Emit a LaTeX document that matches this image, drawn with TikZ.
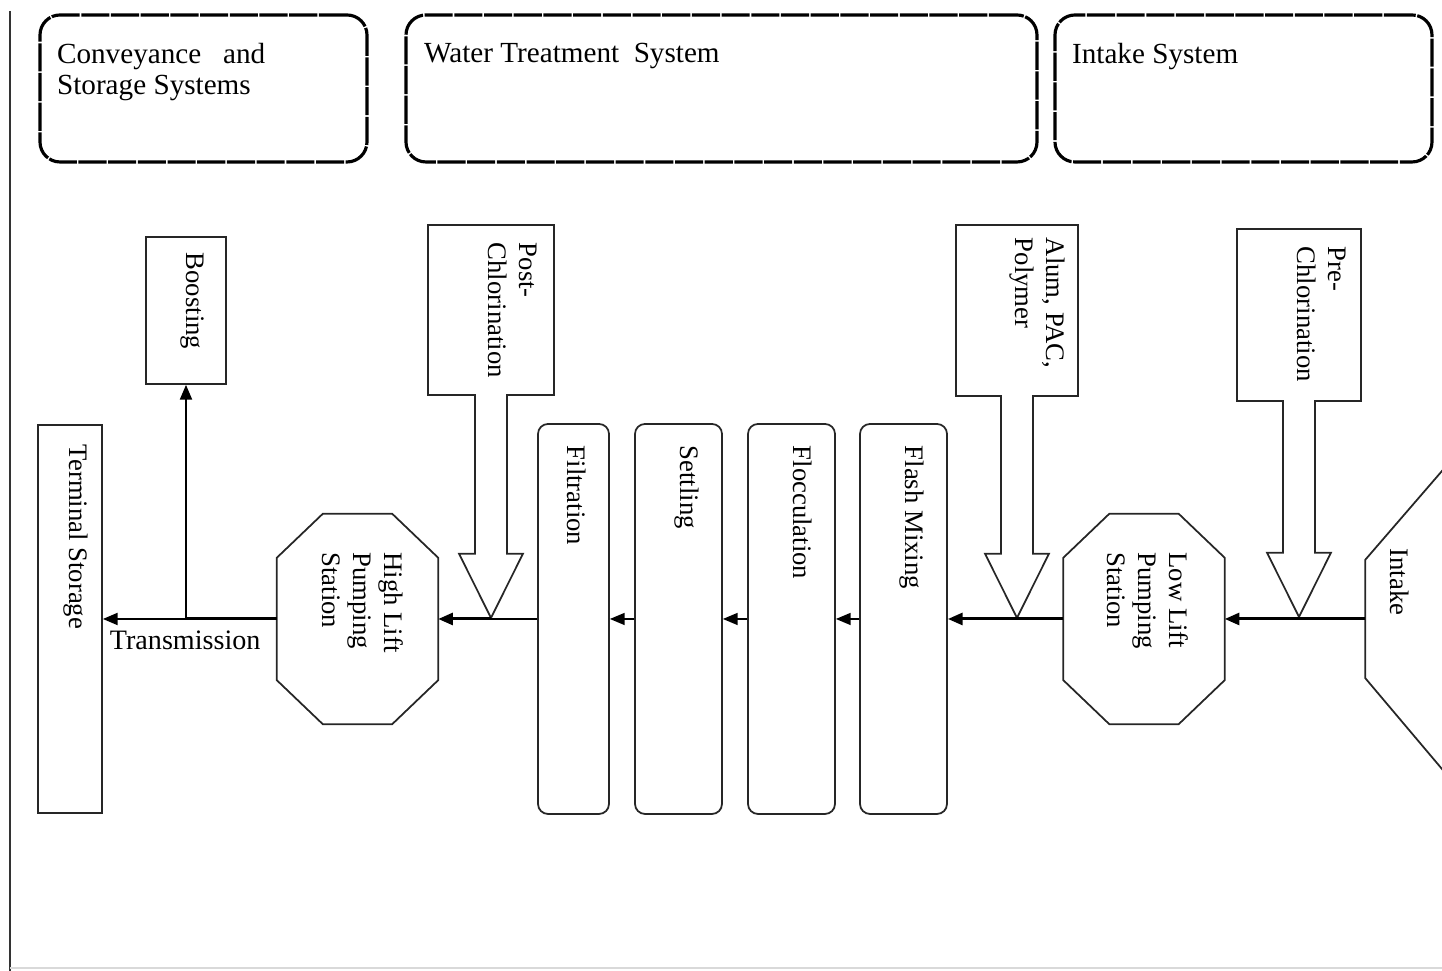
\documentclass[tikz,border=0pt]{standalone}
\usepackage{fontspec}
\setmainfont{Liberation Serif}
\usetikzlibrary{arrows.meta,shapes.arrows}

\begin{document}
\begin{tikzpicture}[
    >={Triangle[length=4.2pt,width=3.4pt]},
    sysbox/.style={
        rectangle, rounded corners=0.2cm, draw=black, line width=0.9pt,
        dash pattern=on 8pt off 0.45pt, minimum height=1.47cm
    },
    systext/.style={
        anchor=north west, align=left, inner sep=0pt,
        font=\fontsize{8.3}{8.8}\selectfont
    },
    tank/.style={
        rectangle, draw=black!85, line width=0.5pt, inner sep=0pt,
        minimum width=0.87cm, minimum height=3.90cm
    },
    stage/.style={tank, rounded corners=0.1cm},
    pump/.style={
        rectangle, inner sep=0pt, minimum width=1.60cm, minimum height=2.09cm
    },
    dose/.style={
        arrow box, draw=black!85, line width=0.5pt, inner sep=0pt,
        arrow box shaft width=0.32cm, arrow box head extend=0.16cm,
        arrow box tip angle=53, minimum height=1.71cm
    },
    lbl/.style={
        rotate=-90, anchor=north west, align=left, inner sep=0pt,
        font=\fontsize{7.6}{8.8}\selectfont
    },
    shapeline/.style={draw=black!85, line width=0.5pt},
    pipe/.style={->, line width=0.85pt},
    pipethin/.style={->, line width=0.45pt},
]
\useasboundingbox (0,0) rectangle (14.42,9.71);
\clip (0,0) rectangle (14.42,9.71);

% ── Page edges ───────────────────────────────────────────────
\draw[line width=0.8pt, black!80] (0.10,9.60) -- (0.10,0);
\draw[line width=0.6pt, gray!30] (0.10,0.03) -- (14.42,0.03);

% ── System headers ───────────────────────────────────────────
\node[sysbox, minimum width=3.27cm] (CS) at (2.035, 8.825) {};
\node[sysbox, minimum width=6.31cm] (WT) at (7.215, 8.825) {};
\node[sysbox, minimum width=3.77cm] (IS) at (12.435, 8.825) {};

\node[systext] at ([shift={(0.18,-0.29)}]CS.north west) {Conveyance\ \ \ and\\Storage Systems};
\node[systext] at ([shift={(0.19,-0.29)}]WT.north west) {Water Treatment\ \ System};
\node[systext] at ([shift={(0.18,-0.29)}]IS.north west) {Intake System};

% ── Units on the flow line ───────────────────────────────────
\node[tank, minimum width=0.64cm, minimum height=3.88cm] (TS) at (0.70, 3.52) {};
\node[tank, minimum width=0.80cm, minimum height=1.47cm] (BO) at (1.86, 6.605) {};
\node[pump] (HL) at (3.575, 3.52) {};
\node[stage, minimum width=0.71cm] (FI) at (5.735, 3.52) {};
\node[stage] (SE) at (6.785, 3.52) {};
\node[stage] (FL) at (7.915, 3.52) {};
\node[stage] (FM) at (9.035, 3.52) {};
\node[pump] (LL) at (11.44, 3.52) {};
\node[rectangle, inner sep=0pt, minimum width=1.52cm, minimum height=1.17cm] (IN) at (14.42, 3.52) {};

% ── Chemical dosing (hollow arrows) ──────────────────────────
\node[dose, minimum width=1.26cm, minimum height=1.70cm, arrow box arrows={south:2.22cm}] (PC) at (4.91, 6.61) {};
\node[dose, minimum width=1.22cm, arrow box arrows={south:2.21cm}] (AL) at (10.17, 6.605) {};
\node[dose, minimum width=1.24cm, minimum height=1.72cm, arrow box arrows={south:2.15cm}] (PR) at (12.99, 6.56) {};

% ── Pump and intake outlines ─────────────────────────────────
\foreach \p in {HL, LL}
  \draw[shapeline] ([xshift=0.46cm]\p.north west) -- ([xshift=-0.46cm]\p.north east)
    -- ([yshift=-0.44cm]\p.north east) -- ([yshift=0.44cm]\p.south east)
    -- ([xshift=-0.46cm]\p.south east) -- ([xshift=0.46cm]\p.south west)
    -- ([yshift=0.44cm]\p.south west) -- ([yshift=-0.44cm]\p.north west) -- cycle;
\draw[shapeline] ([shift={(1.52,1.76)}]IN.north west) -- (IN.north west)
    -- (IN.south west) -- ([shift={(1.52,-1.80)}]IN.south west);

% ── Labels ───────────────────────────────────────────────────
\node[lbl] at ([shift={(-0.14,-0.20)}]TS.north east) {Terminal Storage};
\node[lbl] at ([shift={(-0.22,-0.16)}]BO.north east) {Boosting};
\node[lbl] at ([shift={(-0.34,-0.38)}]HL.north east) {High Lift\\Pumping\\Station};
\node[lbl] at ([shift={(-0.17,-0.18)}]PC.north east) {Post-\\Chlorination};
\node[lbl] at ([shift={(-0.23,-0.22)}]FI.north east) {Filtration};
\node[lbl] at ([shift={(-0.23,-0.22)}]SE.north east) {Settling};
\node[lbl] at ([shift={(-0.23,-0.22)}]FL.north east) {Flocculation};
\node[lbl] at ([shift={(-0.23,-0.22)}]FM.north east) {Flash Mixing};
\node[lbl] at ([shift={(-0.13,-0.13)}]AL.north east) {Alum, PAC,\\Polymer};
\node[lbl] at ([shift={(-0.36,-0.38)}]LL.north east) {Low Lift\\Pumping\\Station};
\node[lbl] at ([shift={(-0.15,-0.18)}]PR.north east) {Pre-\\Chlorination};
\node[lbl] at ([shift={(0.44,0.12)}]IN.north west) {Intake};

% ── Flow line ────────────────────────────────────────────────
\draw[pipe] (IN.west) -- (LL.east);
\draw[pipe] (LL.west) -- (FM.east);
\draw[pipethin] (FM.west) -- (FL.east);
\draw[pipethin] (FL.west) -- (SE.east);
\draw[pipethin] (SE.west) -- (FI.east);

\coordinate (PCjoin) at (PC |- HL.east);
\draw[line width=0.45pt] (FI.west) -- (PCjoin);
\draw[pipe] (PCjoin) -- (HL.east);

\coordinate (BOjoin) at (BO |- HL.west);
\draw[line width=0.85pt] (HL.west) -- (BOjoin);
\draw[pipe, line width=0.6pt] (BOjoin) -- (TS.east)
    node[at end, anchor=north west, inner sep=0pt, xshift=0.06cm, yshift=-0.11cm,
         font=\fontsize{8}{9}\selectfont] {Transmission};
\draw[pipe, line width=0.6pt] (BOjoin) -- (BO.south);

\end{tikzpicture}
\end{document}
